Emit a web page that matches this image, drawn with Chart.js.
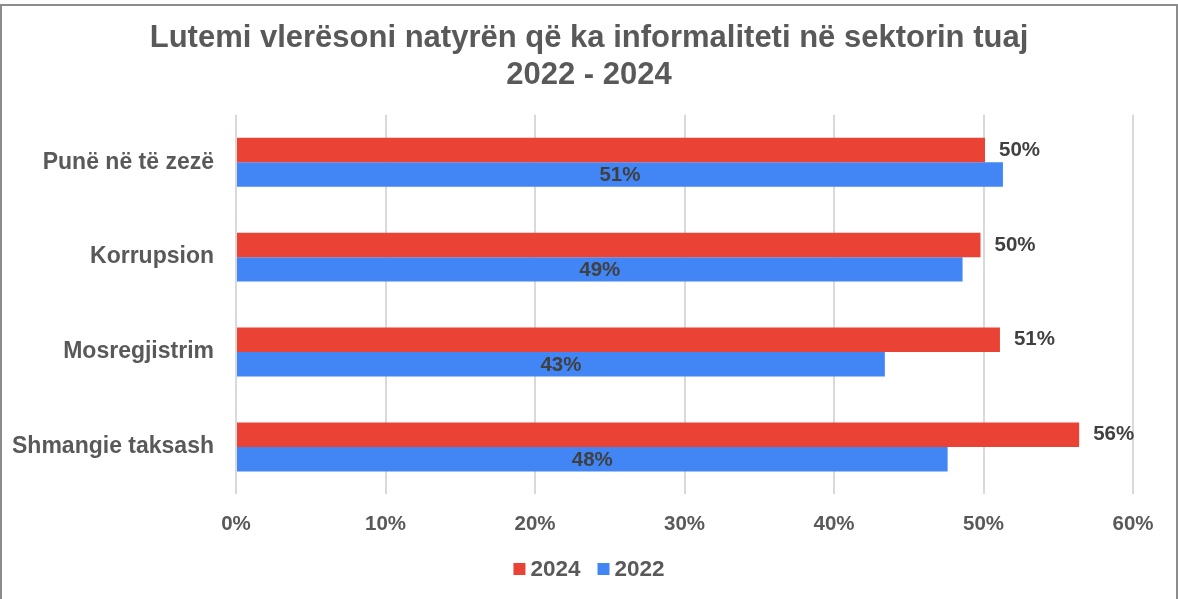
<!DOCTYPE html>
<html>
<head>
<meta charset="utf-8">
<script src="https://cdn.jsdelivr.net/npm/chart.js@4.4.1/dist/chart.umd.min.js"></script>
<style>
  body { margin: 0; background: #fff; }
  #wrap { position: relative; width: 1178px; height: 599px; overflow: hidden; }
  #frame { position: absolute; left: 0; top: 4px; width: 1174px; height: 600px; border: 2px solid #8c8c8c; border-bottom: none; pointer-events: none; }
  canvas { position: absolute; left: 0; top: 0; }
</style>
</head>
<body>
<div id="wrap">
  <canvas id="chart" width="1178" height="599"></canvas>
  <div id="frame"></div>
</div>
<script>
const categories = ['Punë në të zezë', 'Korrupsion', 'Mosregjistrim', 'Shmangie taksash'];
const seriesNames = ['2024', '2022'];
const values2024 = [50.1, 49.8, 51.1, 56.4];
const values2022 = [51.3, 48.6, 43.4, 47.6];
const xTicks = [0, 10, 20, 30, 40, 50, 60];

const FONT = "'Liberation Sans', Arial, sans-serif";
const textGray = '#595959';

// labels: 2024 after bar end, 2022 centered inside bar
const barLabels = {
  id: 'barLabels',
  afterDatasetsDraw(chart) {
    const { ctx } = chart;
    ctx.save();
    ctx.font = 'bold 20.5px ' + FONT;
    ctx.fillStyle = '#404040';
    ctx.textBaseline = 'middle';
    chart.data.datasets.forEach((ds, di) => {
      const meta = chart.getDatasetMeta(di);
      meta.data.forEach((bar, i) => {
        const txt = Math.round(ds.data[i]) + '%';
        if (di === 0) {
          ctx.textAlign = 'left';
          ctx.fillText(txt, bar.x + 14, bar.y);
        } else {
          ctx.textAlign = 'center';
          ctx.fillText(txt, (bar.x + bar.base) / 2, bar.y + 1);
        }
      });
    });
    ctx.restore();
  }
};

// small legend under the axis, tighter than the built-in one
const bottomLegend = {
  id: 'bottomLegend',
  afterDraw(chart) {
    const { ctx } = chart;
    const box = 12, gap = 5, itemGap = 17, y = 569;
    ctx.save();
    ctx.font = 'bold 22.5px ' + FONT;
    ctx.textBaseline = 'middle';
    ctx.textAlign = 'left';
    const items = chart.data.datasets.map(ds => ({ text: ds.label, color: ds.backgroundColor, w: ctx.measureText(ds.label).width }));
    let total = items.reduce((s, it) => s + box + gap + it.w, 0) + itemGap * (items.length - 1);
    let x = chart.width / 2 - total / 2;
    items.forEach(it => {
      ctx.fillStyle = it.color;
      ctx.fillRect(x, y - box / 2, box, box);
      ctx.fillStyle = textGray;
      ctx.fillText(it.text, x + box + gap, y + 1);
      x += box + gap + it.w + itemGap;
    });
    ctx.restore();
  }
};

new Chart(document.getElementById('chart'), {
  type: 'bar',
  data: {
    labels: categories,
    datasets: [
      { label: seriesNames[0], data: values2024, backgroundColor: '#EA4335', borderWidth: 0 },
      { label: seriesNames[1], data: values2022, backgroundColor: '#4285F4', borderWidth: 0 }
    ]
  },
  plugins: [barLabels, bottomLegend],
  options: {
    indexAxis: 'y',
    responsive: false,
    animation: false,
    devicePixelRatio: 1,
    layout: { padding: { left: 45, right: 45, top: 0, bottom: 44 } },
    datasets: { bar: { categoryPercentage: 0.515, barPercentage: 1.0 } },
    plugins: {
      title: {
        display: true,
        text: ['Lutemi vlerësoni natyrën që ka informaliteti në sektorin tuaj', '2022 - 2024'],
        color: textGray,
        font: { family: FONT, size: 31, weight: 'bold', lineHeight: 1.19 },
        padding: { top: 20.5, bottom: 20.5 }
      },
      legend: { display: false },
      tooltip: { enabled: false }
    },
    scales: {
      x: {
        min: 0,
        max: 60,
        afterBuildTicks(scale) { scale.ticks = xTicks.map(v => ({ value: v })); },
        grid: { color: '#d9d9d9', lineWidth: 2, drawTicks: false },
        border: { display: false },
        ticks: {
          padding: 18,
          color: textGray,
          font: { family: FONT, size: 20.5, weight: 'bold' },
          callback: v => v + '%'
        }
      },
      y: {
        afterFit(scale) {
          scale.width = 236 - 45;
          scale._computeLabelArea = () => undefined; // let long labels run past the padding
        },
        grid: { display: false, drawTicks: false },
        border: { display: false },
        ticks: {
          padding: 22,
          color: textGray,
          font: { family: FONT, size: 23, weight: 'bold' }
        }
      }
    }
  }
});
</script>
</body>
</html>
